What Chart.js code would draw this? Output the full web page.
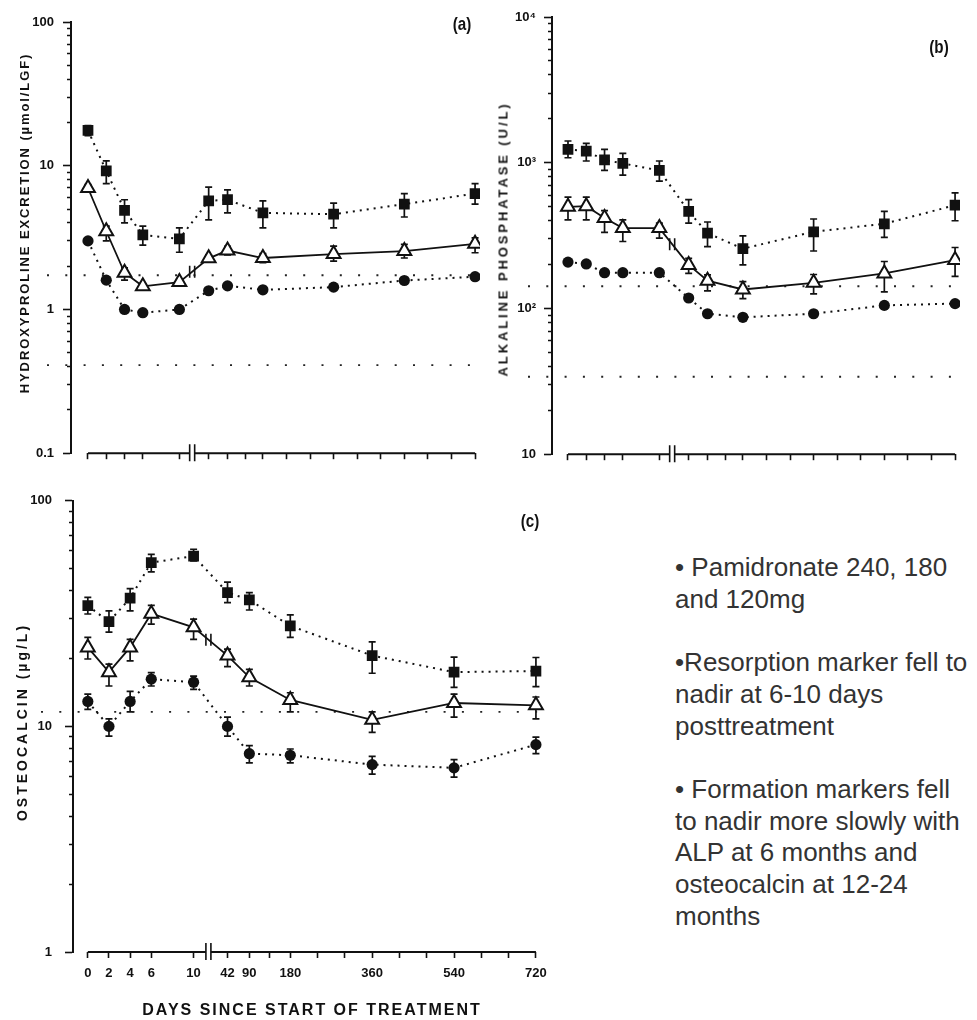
<!DOCTYPE html>
<html><head><meta charset="utf-8">
<script src="https://cdn.jsdelivr.net/npm/chart.js@4.4.1/dist/chart.umd.min.js"></script>
<style>
html,body{margin:0;padding:0;background:#fff;}
body{width:977px;height:1020px;position:relative;overflow:hidden;font-family:"Liberation Sans",Arial,sans-serif;color:#111;}
canvas{position:absolute;}
.rot{position:absolute;white-space:nowrap;transform:translate(-50%,-50%) rotate(-90deg);color:#111;font-weight:bold;}
.lab{position:absolute;white-space:nowrap;transform:translate(-50%,-50%) scaleX(0.8);font-weight:bold;font-size:19px;color:#111;}
#xtitle{position:absolute;white-space:nowrap;transform:translate(-50%,-50%);font-size:16px;font-weight:bold;letter-spacing:2px;color:#111;}
#notes{position:absolute;left:675px;top:552px;font-size:26px;line-height:31.7px;color:#333;white-space:nowrap;}
#notes p{margin:0 0 31.7px 0;}
</style></head>
<body>
<canvas id="cA" width="490" height="470" style="left:0;top:0"></canvas>
<canvas id="cB" width="487" height="470" style="left:490px;top:0"></canvas>
<canvas id="cC" width="560" height="540" style="left:0;top:480px"></canvas>

<div class="rot" style="left:24px;top:223px;font-size:13px;letter-spacing:1.9px;">HYDROXYPROLINE EXCRETION (µmol/LGF)</div>
<div class="rot" style="left:503px;top:239px;font-size:13px;letter-spacing:2.9px;">ALKALINE PHOSPHATASE (U/L)</div>
<div class="rot" style="left:22px;top:722px;font-size:14px;letter-spacing:3px;">OSTEOCALCIN (µg/L)</div>
<div class="lab" style="left:462px;top:24px;">(a)</div>
<div class="lab" style="left:939px;top:47px;">(b)</div>
<div class="lab" style="left:530px;top:521px;">(c)</div>
<div id="xtitle" style="left:312px;top:1010px;">DAYS SINCE START OF TREATMENT</div>

<div id="notes">
<p>• Pamidronate 240, 180<br>and 120mg</p>
<p>•Resorption marker fell to<br>nadir at 6-10 days<br>posttreatment</p>
<p>• Formation markers fell<br>to nadir more slowly with<br>ALP at 6 months and<br>osteocalcin at 12-24<br>months</p>
</div>

<script>
// ---------- data ----------
const days = [0, 2, 4, 6, 10, 42, 90, 180, 360, 540, 720];
const xTickDays = [0, 2, 4, 6, 10, 42, 90, 135, 180, 240, 300, 360, 420, 480, 540, 600, 660, 720];
const xLabelDays = [0, 2, 4, 6, 10, 42, 90, 180, 360, 540, 720];

// (a) hydroxyproline excretion
const hypSq   = [17.6, 9.2, 4.9, 3.3, 3.1, 5.7, 5.8, 4.7, 4.6, 5.4, 6.4];
const hypSqHi = [19.0, 10.8, 5.8, 3.8, 3.7, 7.1, 6.8, 5.7, 5.5, 6.4, 7.5];
const hypSqLo = [16.2, 7.5, 4.0, 2.8, 2.5, 4.2, 4.7, 3.7, 3.7, 4.4, 5.4];
const hypTri   = [7.0, 3.5, 1.8, 1.45, 1.55, 2.27, 2.57, 2.28, 2.43, 2.55, 2.86];
const hypTriHi = [7.4, 3.8, 1.95, 1.5, 1.62, 2.4, 2.75, 2.45, 2.76, 2.84, 3.15];
const hypTriLo = [6.6, 3.0, 1.6, 1.4, 1.48, 2.15, 2.4, 2.12, 2.17, 2.28, 2.48];
const hypCir = [3.0, 1.6, 1.0, 0.95, 1.0, 1.35, 1.46, 1.37, 1.43, 1.59, 1.69];
const hypRefs = [1.73, 0.41];
const hypDecades = [0.1, 1, 10, 100];
const hypLabels = ['0.1', '1', '10', '100'];

// (b) alkaline phosphatase
const alpSq   = [1236, 1202, 1045, 989, 885, 464, 329, 257, 336, 381, 511];
const alpSqHi = [1410, 1358, 1236, 1159, 1028, 559, 392, 315, 411, 464, 621];
const alpSqLo = [1082, 1028, 885, 822, 748, 385, 266, 199, 248, 307, 400];
const alpTri   = [498, 503, 418, 356, 356, 199, 155, 135, 150, 174, 215];
const alpTriHi = [580, 580, 469, 406, 385, 221, 170, 153, 171, 210, 262];
const alpTriLo = [406, 406, 333, 288, 304, 174, 132, 117, 126, 130, 166];
const alpCir = [208, 202, 176, 176, 176, 118, 92, 87, 92, 105, 108];
const alpRefs = [142, 34];
const alpDecades = [10, 100, 1000, 10000];
const alpLabels = ['10', '10²', '10³', '10⁴'];

// (c) osteocalcin
const ocSq   = [34.3, 29.1, 37.0, 53.2, 56.9, 39.2, 36.4, 27.9, 20.6, 17.4, 17.6];
const ocSqHi = [37.3, 32.5, 40.8, 57.9, 61.0, 43.6, 39.2, 31.2, 23.7, 20.3, 20.2];
const ocSqLo = [31.5, 26.2, 32.5, 48.4, 54.2, 35.4, 32.8, 24.8, 17.2, 14.9, 15.0];
const ocTri   = [22.4, 17.4, 22.4, 31.6, 27.5, 20.6, 16.5, 13.1, 10.7, 12.7, 12.4];
const ocTriHi = [24.8, 18.9, 24.3, 34.4, 29.9, 22.0, 17.9, 14.1, 11.6, 13.9, 13.5];
const ocTriLo = [19.9, 15.1, 19.5, 28.4, 24.3, 18.4, 15.1, 11.6, 9.4, 11.0, 10.8];
const ocCir   = [12.9, 10.0, 12.9, 16.2, 15.7, 10.0, 7.57, 7.45, 6.77, 6.55, 8.3];
const ocCirHi = [13.9, 10.8, 14.3, 17.3, 16.7, 11.0, 8.22, 7.94, 7.36, 7.13, 8.97];
const ocCirLo = [11.9, 9.06, 11.6, 15.1, 14.6, 9.06, 6.89, 6.89, 6.15, 5.96, 7.57];
const ocRefs = [11.6];
const ocDecades = [1, 10, 100];
const ocLabels = ['1', '10', '100'];

// ---------- broken time axis ----------
const BREAK_POS = 11.4, POST_SLOPE = 0.043;
function dayPos(d) { return d <= 10 ? d : BREAK_POS + POST_SLOPE * d; }
function toXY(vals) { return days.map((d, i) => ({ x: dayPos(d), y: vals[i] })); }
function logTicks(dec) {
  const out = [];
  for (let j = 0; j < dec.length - 1; j++) for (let k = 1; k <= 9; k++) out.push({ value: k * dec[j], major: k === 1 });
  out.push({ value: dec[dec.length - 1], major: true });
  return out;
}

const INK = '#111';
function sqDS(v, hi, lo) {
  return { data: toXY(v), errHi: hi, errLo: lo, borderColor: INK, borderWidth: 2, borderDash: [2, 5],
    pointStyle: 'rect', pointRadius: 7.6, pointBackgroundColor: INK, pointBorderColor: INK, pointBorderWidth: 0, fill: false };
}
function cirDS(v, hi, lo) {
  return { data: toXY(v), errHi: hi, errLo: lo, borderColor: INK, borderWidth: 2, borderDash: [2, 5],
    pointStyle: 'circle', pointRadius: 5.6, pointBackgroundColor: INK, pointBorderColor: INK, pointBorderWidth: 0, fill: false };
}
function triDS(v, hi, lo) {
  return { data: toXY(v), errHi: hi, errLo: lo, breakMark: true, borderColor: INK, borderWidth: 1.8,
    pointStyle: 'triangle', pointRadius: 8, pointBackgroundColor: '#fff', pointBorderColor: INK, pointBorderWidth: 2, fill: false };
}

const errorBars = {
  id: 'errorBars',
  beforeDatasetsDraw(chart) {
    const { ctx } = chart; const y = chart.scales.y;
    ctx.save(); ctx.strokeStyle = INK; ctx.lineWidth = 1.7;
    chart.data.datasets.forEach((ds, di) => {
      if (!ds.errHi) return;
      chart.getDatasetMeta(di).data.forEach((pt, i) => {
        const yh = y.getPixelForValue(ds.errHi[i]), yl = y.getPixelForValue(ds.errLo[i]);
        ctx.beginPath();
        ctx.moveTo(pt.x, yh); ctx.lineTo(pt.x, yl);
        ctx.moveTo(pt.x - 3.5, yh); ctx.lineTo(pt.x + 3.5, yh);
        ctx.moveTo(pt.x - 3.5, yl); ctx.lineTo(pt.x + 3.5, yl);
        ctx.stroke();
      });
    });
    ctx.restore();
  }
};

const decor = {
  id: 'decor',
  beforeDatasetsDraw(chart, args, opts) {
    const { ctx, chartArea } = chart; const x = chart.scales.x, y = chart.scales.y;
    ctx.save(); ctx.strokeStyle = '#222'; ctx.lineWidth = 1.8; ctx.setLineDash([2, 16.3]);
    (opts.refs || []).forEach(v => {
      const py = y.getPixelForValue(v);
      ctx.beginPath(); ctx.moveTo(chartArea.left - opts.refLeft, py);
      ctx.lineTo(x.getPixelForValue(dayPos(720)) + opts.refRight, py); ctx.stroke();
    });
    ctx.restore();
  },
  afterDraw(chart) {
    const { ctx, chartArea } = chart; const x = chart.scales.x;
    const yb = chartArea.bottom;
    const x0 = x.getPixelForValue(dayPos(0)), xb = x.getPixelForValue(BREAK_POS), x1 = x.getPixelForValue(dayPos(720));
    ctx.save(); ctx.strokeStyle = INK; ctx.lineWidth = 2;
    ctx.beginPath(); ctx.moveTo(x0, yb); ctx.lineTo(xb - 2.5, yb); ctx.moveTo(xb + 2.5, yb); ctx.lineTo(x1, yb); ctx.stroke();
    ctx.lineWidth = 1.6; ctx.beginPath();
    ctx.moveTo(xb - 2.5, yb - 9); ctx.lineTo(xb - 2.5, yb + 8);
    ctx.moveTo(xb + 2.5, yb - 9); ctx.lineTo(xb + 2.5, yb + 8); ctx.stroke();
    // break mark on the solid series line
    chart.data.datasets.forEach((ds, di) => {
      if (!ds.breakMark) return;
      const pts = chart.getDatasetMeta(di).data;
      const a = pts[4], b = pts[5];
      const t = (xb - a.x) / (b.x - a.x);
      const py = a.y + t * (b.y - a.y);
      ctx.beginPath();
      ctx.moveTo(xb - 2.5, py - 6); ctx.lineTo(xb - 2.5, py + 6);
      ctx.moveTo(xb + 2.5, py - 6); ctx.lineTo(xb + 2.5, py + 6);
      ctx.stroke();
    });
    ctx.restore();
  }
};

function makePanel(p) {
  const tickFont = { family: 'Liberation Sans', weight: 'bold', size: 13 };
  return new Chart(document.getElementById(p.id), {
    type: 'line',
    data: { datasets: p.datasets },
    options: {
      responsive: false, animation: false, devicePixelRatio: 1,
      layout: { padding: { top: p.padTop, right: p.padRight, bottom: 0, left: 0 } },
      plugins: { legend: { display: false }, tooltip: { enabled: false },
        decor: { refs: p.refs, refLeft: p.refLeft, refRight: p.refRight } },
      elements: { line: { tension: 0 } },
      scales: {
        x: {
          type: 'linear', position: 'bottom', min: p.xMin, max: p.xMax,
          afterBuildTicks: s => { s.ticks = xTickDays.map(d => ({ value: dayPos(d) })); },
          afterFit: s => { s.height = p.xH; },
          border: { display: false },
          grid: { drawOnChartArea: false, tickLength: 6, tickColor: INK, tickWidth: 1.6 },
          ticks: { autoSkip: false, maxRotation: 0, padding: 8, font: tickFont, color: INK,
            callback: (v, i) => (p.showXLabels && xLabelDays.includes(xTickDays[i])) ? String(xTickDays[i]) : '' }
        },
        y: {
          type: 'logarithmic', position: 'left', min: p.yDecades[0], max: p.yDecades[p.yDecades.length - 1],
          afterBuildTicks: s => { s.ticks = logTicks(p.yDecades); },
          afterFit: s => { s.width = p.yW; },
          border: { display: true, color: INK, width: 2 },
          grid: { drawOnChartArea: false, tickLength: 8, tickColor: INK, tickWidth: 1.6,
            tickBorderDash: c => (c.tick && c.tick.major) ? [] : [0, 4, 4, 100] },
          ticks: { autoSkip: false, padding: p.yPad, font: tickFont, color: INK,
            callback: (v, i, t) => {
              if (!t[i].major) return '';
              const k = p.yDecades.findIndex(d => Math.abs(d - v) / d < 1e-6);
              return k >= 0 ? p.yLabels[k] : '';
            } }
        }
      }
    },
    plugins: [errorBars, decor]
  });
}

makePanel({ id: 'cA', yW: 71, xH: 15, padTop: 22, padRight: 10, xMin: -1.86, xMax: 42.9, yPad: 9,
  yDecades: hypDecades, yLabels: hypLabels, showXLabels: false, refs: hypRefs, refLeft: 24, refRight: 0,
  datasets: [sqDS(hypSq, hypSqHi, hypSqLo), triDS(hypTri, hypTriHi, hypTriLo), cirDS(hypCir)] });

makePanel({ id: 'cB', yW: 62, xH: 13, padTop: 17, padRight: 17, xMin: -1.75, xMax: 42.9, yPad: 8,
  yDecades: alpDecades, yLabels: alpLabels, showXLabels: false, refs: alpRefs, refLeft: 24, refRight: 0,
  datasets: [sqDS(alpSq, alpSqHi, alpSqLo), triDS(alpTri, alpTriHi, alpTriLo), cirDS(alpCir)] });

makePanel({ id: 'cC', yW: 73, xH: 68, padTop: 18, padRight: 5, xMin: -1.40, xMax: 43.69, yPad: 13,
  yDecades: ocDecades, yLabels: ocLabels, showXLabels: true, refs: ocRefs, refLeft: 32, refRight: 9,
  datasets: [sqDS(ocSq, ocSqHi, ocSqLo), triDS(ocTri, ocTriHi, ocTriLo), cirDS(ocCir, ocCirHi, ocCirLo)] });
</script>
</body></html>
